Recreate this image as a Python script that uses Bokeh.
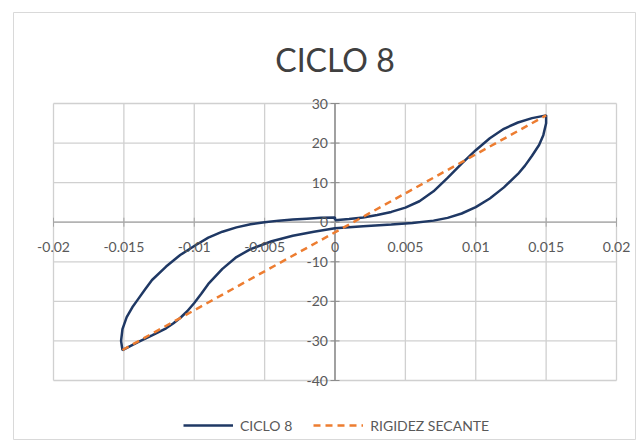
from math import pi
from bokeh.plotting import figure
from bokeh.models import Range1d, Label, LabelSet, ColumnDataSource, Legend, LegendItem
from bokeh.core.properties import value
from bokeh.embed import file_html
from bokeh.resources import INLINE

# ---- data ----
ciclo_x = [0.0000, 0.0010, 0.0020, 0.0030, 0.0040, 0.0050, 0.0060, 0.0070, 0.0080, 0.0090,
           0.0100, 0.0110, 0.0120, 0.0130, 0.0140, 0.0150,
           0.0150, 0.0148, 0.0145, 0.0140, 0.0135, 0.0130, 0.0120, 0.0110, 0.0100, 0.0090,
           0.0080, 0.0070, 0.0055, 0.0040, 0.0020, 0.0000, -0.0015, -0.0030, -0.0045, -0.0060,
           -0.0070, -0.0080, -0.0090, -0.0095, -0.0100, -0.0105, -0.0110, -0.0115, -0.0120,
           -0.0130, -0.0140, -0.0151,
           -0.0152, -0.0151, -0.0148, -0.0144, -0.0140, -0.0135, -0.0130, -0.0120, -0.0110, -0.0100,
           -0.0090, -0.0080, -0.0070, -0.0060, -0.0050, -0.0040, -0.0030, -0.0020, -0.0010, 0.0000,
           0.0000]
ciclo_y = [0.5, 0.8, 1.2, 1.8, 2.6, 3.7, 5.3, 7.8, 11.2, 14.8,
           18.2, 21.2, 23.6, 25.2, 26.3, 27.0,
           25.0, 22.0, 19.5, 16.8, 14.3, 12.2, 8.8, 6.0, 3.8, 2.2,
           1.1, 0.4, -0.2, -0.6, -1.0, -1.5, -2.4, -3.4, -4.8, -6.8,
           -8.8, -11.8, -15.6, -18.1, -20.4, -22.5, -24.2, -25.6, -26.8,
           -28.6, -30.3, -32.3,
           -30.0, -27.0, -24.0, -21.5, -19.5, -17.0, -14.6, -11.2, -8.3, -6.0,
           -3.9, -2.4, -1.3, -0.5, 0.0, 0.4, 0.7, 0.9, 1.1, 1.2,
           0.5]
secante_x = [-0.0151, 0.0150]
secante_y = [-32.3, 27.0]

x_ticks = [-0.02, -0.015, -0.01, -0.005, 0.0, 0.005, 0.01, 0.015, 0.02]
x_tick_labels = ["-0.02", "-0.015", "-0.01", "-0.005", "0", "0.005", "0.01", "0.015", "0.02"]
y_ticks = [30, 20, 10, 0, -10, -20, -30, -40]
y_tick_labels = ["30", "20", "10", "0", "-10", "-20", "-30", "-40"]

title_text = "CICLO 8"
series_names = ["CICLO 8", "RIGIDEZ SECANTE"]

# ---- layout constants (pixels) ----
W, H = 623, 428                  # chart box
PL, PR, PT, PB = 40, 603, 91, 368  # plot-area edges inside the box
FONT = "Lato"
TXT = "#595959"
GRID = "#d0d0d0"

x_lo, x_hi = min(x_ticks), max(x_ticks)
y_lo, y_hi = min(y_ticks), max(y_ticks)
kx = (PR - PL) / (x_hi - x_lo)
ky = (PB - PT) / (y_hi - y_lo)

p = figure(width=W, height=H, output_backend="svg", toolbar_location=None,
           x_range=Range1d(x_lo - PL / kx, x_hi + (W - PR) / kx),
           y_range=Range1d(y_lo - (H - PB) / ky, y_hi + PT / ky),
           x_axis_location=None, y_axis_location=None, min_border=0)
p.margin = (12, 0, 0, 13)
p.xgrid.visible = False
p.ygrid.visible = False
p.outline_line_color = "#d9d9d9"
p.outline_line_width = 1

# grid lines of the plot area
p.segment(x0=x_ticks, y0=[y_lo] * len(x_ticks), x1=x_ticks, y1=[y_hi] * len(x_ticks),
          line_color=GRID, line_width=1.3)
p.segment(x0=[x_lo] * len(y_ticks), y0=y_ticks, x1=[x_hi] * len(y_ticks), y1=y_ticks,
          line_color=GRID, line_width=1.3)
# axes through zero
p.segment(x0=[x_lo], y0=[0], x1=[x_hi], y1=[0], line_color="#a6a6a6", line_width=1.3)
p.segment(x0=[0], y0=[y_lo], x1=[0], y1=[y_hi], line_color="#7f7f7f", line_width=1.3)
p.dash(x=[0] * len(y_ticks), y=y_ticks, size=9, line_color="#8c8c8c", line_width=1)
p.dash(x=x_ticks, y=[0] * len(x_ticks), size=9, angle=pi / 2, line_color="#a6a6a6", line_width=1)

r1 = p.line(ciclo_x, ciclo_y, line_color="#1f3864", line_width=2.5)
r2 = p.line(secante_x, secante_y, line_color="#ed7d31", line_dash="7 5", line_width=2.5)

xsrc = ColumnDataSource(dict(x=x_ticks, y=[0] * len(x_ticks), t=x_tick_labels))
ysrc = ColumnDataSource(dict(x=[0] * len(y_ticks), y=y_ticks, t=y_tick_labels))
p.add_layout(LabelSet(x="x", y="y", text="t", source=xsrc, y_offset=-25,
                      text_align="center", text_baseline="middle",
                      text_font=value(FONT), text_font_size="14px", text_color=TXT))
p.add_layout(LabelSet(x="x", y="y", text="t", source=ysrc, x_offset=-7,
                      text_align="right", text_baseline="middle",
                      text_font=value(FONT), text_font_size="14px", text_color=TXT))

p.add_layout(Label(x=0, y=y_hi + (PT - 47) / ky, text=title_text,
                   text_align="center", text_baseline="middle",
                   text_font=FONT, text_font_size="32px", text_color="#404040"))

legend = Legend(items=[LegendItem(label=series_names[0], renderers=[r1]),
                       LegendItem(label=series_names[1], renderers=[r2])],
                orientation="horizontal", location=(170, 5),
                border_line_color=None, background_fill_alpha=0, padding=4,
                label_text_font=FONT, label_text_font_size="14px", label_text_color=TXT,
                glyph_width=50, label_standoff=7, spacing=21)
p.add_layout(legend)

open("out.html", "w").write(file_html(p, INLINE))
